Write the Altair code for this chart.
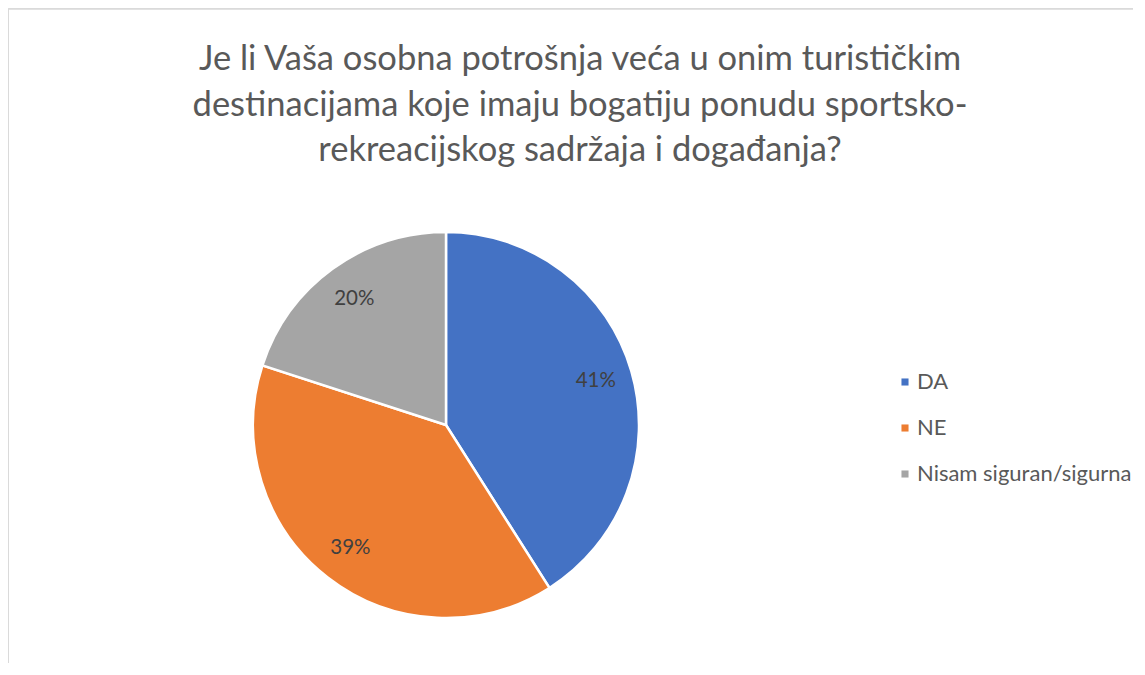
import altair as alt
import pandas as pd

categories = ["DA", "NE", "Nisam siguran/sigurna"]
values = [41, 39, 20]
labels = ["41%", "39%", "20%"]
colors = ["#4472C4", "#ED7D31", "#A5A5A5"]
title_lines = [
    "Je li Vaša osobna potrošnja veća u onim turističkim",
    "destinacijama koje imaju bogatiju ponudu sportsko-",
    "rekreacijskog sadržaja i događanja?",
]

df = pd.DataFrame({"cat": categories, "val": values, "label": labels, "idx": list(range(len(categories)))})

W, H = 1125, 655
CX, CY = 438, 417
R = 193
FONT = "Lato"

base = alt.Chart(df).encode(
    theta=alt.Theta("val:Q", stack=True),
    order=alt.Order("idx:Q"),
)

pie = base.mark_arc(outerRadius=R, stroke="white", strokeWidth=2.5).encode(
    x=alt.value(CX),
    y=alt.value(CY),
    color=alt.Color(
        "cat:N",
        scale=alt.Scale(domain=categories, range=colors),
        sort=categories,
        legend=alt.Legend(
            title=None,
            orient="none",
            legendX=886,
            legendY=363,
            symbolType="square",
            symbolSize=50,
            symbolStrokeWidth=0,
            labelFontSize=22,
            labelFont=FONT,
            labelColor="#595959",
            labelLimit=400,
            rowPadding=24,
            labelOffset=1,
        ),
    ),
)

text = base.mark_text(radius=156, fontSize=20.5, font=FONT, color="#404040").encode(
    x=alt.value(CX),
    y=alt.value(CY),
    text="label:N",
)

title = alt.Chart(pd.DataFrame({"t": [0]})).mark_text(
    text=title_lines,
    fontSize=34.5,
    font=FONT,
    color="#595959",
    lineHeight=45.5,
    align="center",
    baseline="alphabetic",
).encode(x=alt.value(572), y=alt.value(62))

border_left = alt.Chart(pd.DataFrame({"t": [0]})).mark_rule(color="#d9d9d9", strokeWidth=1.5).encode(
    x=alt.value(0), y=alt.value(1), y2=alt.value(H)
)
border_top = alt.Chart(pd.DataFrame({"t": [0]})).mark_rule(color="#d9d9d9", strokeWidth=1.5).encode(
    x=alt.value(0), x2=alt.value(W), y=alt.value(1)
)

chart = alt.layer(border_left, border_top, pie, text, title).properties(
    width=W, height=H, autosize=alt.AutoSizeParams(type="none"), padding=0
).configure_view(stroke=None).configure(background="white")

chart.save("out.html", embed_options={"renderer": "svg", "actions": False})
